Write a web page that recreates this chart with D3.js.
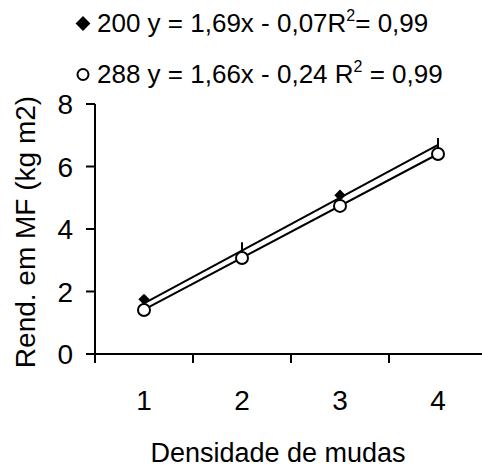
<!DOCTYPE html>
<html><head><meta charset="utf-8">
<script src="https://cdn.jsdelivr.net/npm/d3@7"></script>
<style>
html,body{margin:0;padding:0;background:#fff;overflow:hidden}
text{font-family:Arial,"Liberation Sans",sans-serif;fill:#000}
</style></head>
<body>
<svg id="c" width="482" height="468"></svg>
<script>
const categories = ["1","2","3","4"];
const series200 = [1.75, 3.08, 5.08, 6.40];
const series288 = [1.41, 3.07, 4.74, 6.40];
const errUp200 = [0, 0.50, 0, 0.51];
const slopes = [1.69, 1.66];
const intercepts = [-0.07, -0.24];
const yTicks = [0, 2, 4, 6, 8];
const legendLabels = [
  {name:"200", eq:"y = 1,69x - 0,07", r:"R", sup:"2", tail:"= 0,99"},
  {name:"288", eq:"y = 1,66x - 0,24 ", r:"R", sup:"2", tail:" = 0,99"}
];
const xTitle = "Densidade de mudas";
const yTitle = "Rend. em MF (kg m2)";

(function(){
const svg = d3.select("#c");
const mLeft = 95, mTop = 104, mBottom = 354, bandW = 98;
const x = d3.scaleBand().domain(categories).range([mLeft, mLeft + bandW*categories.length]).paddingInner(0).paddingOuter(0);
const y = d3.scaleLinear().domain([0, 8]).range([mBottom, mTop]);
const cx = c => x(c) + x.bandwidth()/2;

// axes
const g = svg.append("g");
g.append("line").attr("x1", mLeft-9).attr("x2", 482).attr("y1", y(0)).attr("y2", y(0)).attr("stroke","#000").attr("stroke-width",2);
g.append("line").attr("x1", mLeft).attr("x2", mLeft).attr("y1", y(8)).attr("y2", y(0)+9).attr("stroke","#000").attr("stroke-width",2);
yTicks.forEach(t => {
  g.append("line").attr("x1", mLeft-9).attr("x2", mLeft).attr("y1", y(t)).attr("y2", y(t)).attr("stroke","#000").attr("stroke-width",2);
  g.append("text").attr("x", mLeft-22).attr("y", y(t)).attr("dy","0.36em").attr("text-anchor","end").attr("font-size",28).text(t);
});
categories.forEach((c,i) => {
  if (i>0) g.append("line").attr("x1", x(c)).attr("x2", x(c)).attr("y1", y(0)).attr("y2", y(0)+9).attr("stroke","#000").attr("stroke-width",2);
  g.append("text").attr("x", cx(c)).attr("y", 410).attr("text-anchor","middle").attr("font-size",28).text(c);
});
svg.append("text").attr("x", 278).attr("y", 462).attr("text-anchor","middle").attr("font-size",27).text(xTitle);
svg.append("text").attr("transform","translate(35,232) rotate(-90)").attr("text-anchor","middle").attr("font-size",28).text(yTitle);

// error bars
categories.forEach((c,i) => {
  if (errUp200[i] > 0)
    svg.append("line").attr("x1", cx(c)).attr("x2", cx(c)).attr("y1", y(series200[i])).attr("y2", y(series200[i]+errUp200[i])).attr("stroke","#000").attr("stroke-width",2);
});

// trend lines
const xs = [1, 4];
slopes.forEach((s,k) => {
  svg.append("line")
    .attr("x1", cx(categories[0])).attr("y1", y(s*xs[0]+intercepts[k]))
    .attr("x2", cx(categories[3])).attr("y2", y(s*xs[1]+intercepts[k]))
    .attr("stroke","#000").attr("stroke-width",2);
});

// markers
const diamond = d3.symbol().type(d3.symbolSquare).size(64);
categories.forEach((c,i) => {
  svg.append("path").attr("d", diamond()).attr("transform",`translate(${cx(c)},${y(series200[i])}) rotate(45)`).attr("fill","#000");
});
categories.forEach((c,i) => {
  svg.append("circle").attr("cx", cx(c)).attr("cy", y(series288[i])).attr("r", 6).attr("fill","#fff").attr("stroke","#000").attr("stroke-width",2);
});

// legend
const ly = [32, 83];
legendLabels.forEach((L,k) => {
  const mx = 83, my = ly[k]-8.5;
  if (k===0) svg.append("path").attr("d", d3.symbol().type(d3.symbolSquare).size(110)()).attr("transform",`translate(${mx},${my}) rotate(45)`).attr("fill","#000");
  else svg.append("circle").attr("cx", mx).attr("cy", my).attr("r", 5.5).attr("fill","#fff").attr("stroke","#000").attr("stroke-width",2);
  const t = svg.append("text").attr("x", 97).attr("y", ly[k]).attr("font-size",26);
  t.append("tspan").text(L.name + " " + L.eq + L.r);
  t.append("tspan").attr("dy",-11).attr("font-size",16).text(L.sup);
  t.append("tspan").attr("dy",11).text(L.tail);
});
})();
</script>
</body></html>
